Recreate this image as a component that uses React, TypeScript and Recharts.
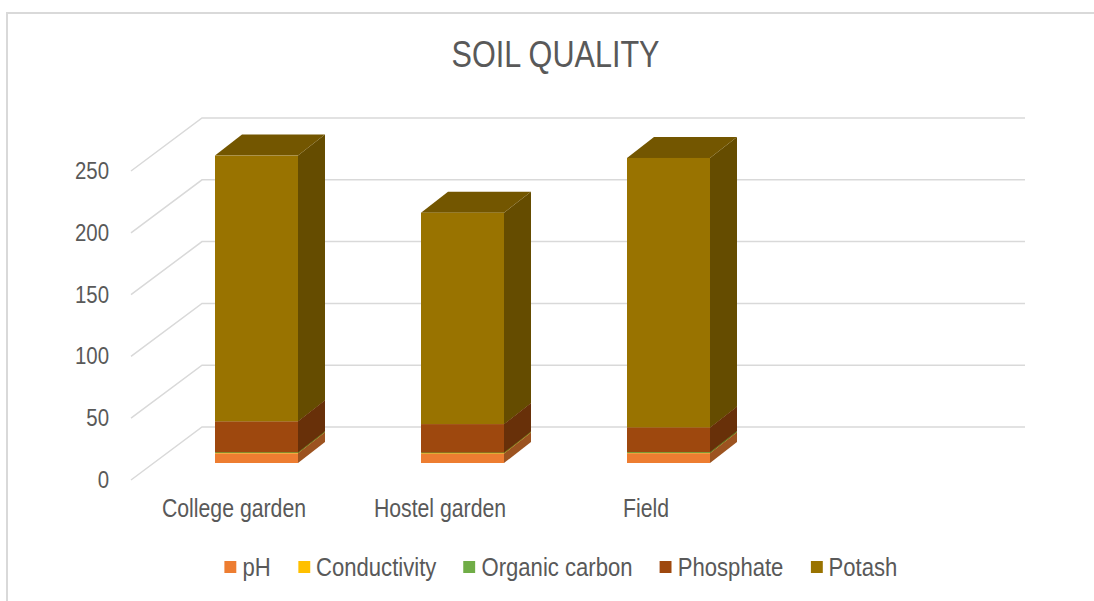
import * as React from "react"
import { BarChart, Bar, XAxis, YAxis, CartesianGrid } from "recharts"

const sites = ["College garden", "Hostel garden", "Field"]
const ph = [7.8, 7.6, 7.9]
const conductivity = [0.3, 0.4, 0.2]
const organicCarbon = [0.6, 0.5, 0.7]
const phosphate = [25, 23, 20]
const potash = [215, 171, 218]
const yTicks = [0, 50, 100, 150, 200, 250]

const series = [
  { key: "ph", name: "pH", color: "#ED7D31", values: ph },
  { key: "conductivity", name: "Conductivity", color: "#FFC000", values: conductivity },
  { key: "organicCarbon", name: "Organic carbon", color: "#70AD47", values: organicCarbon },
  { key: "phosphate", name: "Phosphate", color: "#9E480E", values: phosphate },
  { key: "potash", name: "Potash", color: "#997300", values: potash },
]

const data = sites.map((name, i) => {
  const row: Record<string, string | number> = { name }
  series.forEach((s) => {
    row[s.key] = s.values[i]
  })
  return row
})

// fake 3d: offsets from the bar front plane
const DEPTH_X = 27
const DEPTH_Y = -21
const FRONT_X = -22
const FRONT_Y = 17
const BACK_X = 49
const BACK_Y = -36

// no narrow font installed, so squeeze Liberation Sans
const FONT = "'Liberation Sans', Arial, sans-serif"
const NARROW = 0.85
const TEXT = "#595959"
const GRID = "#D9D9D9"

function shade(hex: string, f: number) {
  const n = parseInt(hex.slice(1), 16)
  const r = Math.round(((n >> 16) & 255) * f)
  const g = Math.round(((n >> 8) & 255) * f)
  const b = Math.round((n & 255) * f)
  return `rgb(${r},${g},${b})`
}

function Box3D(props: any) {
  const { x, y, width, height, fill } = props
  if (height == null || height <= 0) return null
  const side = shade(fill, 0.66)
  const top = shade(fill, 0.75)
  const r = x + width
  return (
    <g>
      <polygon
        points={`${r},${y} ${r + DEPTH_X},${y + DEPTH_Y} ${r + DEPTH_X},${y + height + DEPTH_Y} ${r},${y + height}`}
        fill={side}
      />
      <polygon
        points={`${x},${y} ${x + DEPTH_X},${y + DEPTH_Y} ${r + DEPTH_X},${y + DEPTH_Y} ${r},${y}`}
        fill={top}
      />
      <rect x={x} y={y} width={width} height={height} fill={fill} />
    </g>
  )
}

function GridLine(props: any) {
  const { x1, x2, y1 } = props
  const pts = `${x1 + FRONT_X},${y1 + FRONT_Y} ${x1 + BACK_X},${y1 + BACK_Y} ${x2 + BACK_X - 1},${y1 + BACK_Y}`
  return <polyline key={props.key} points={pts} fill="none" stroke={GRID} strokeWidth={1.5} />
}

function YTick(props: any) {
  const { x, y, payload } = props
  return (
    <text
      transform={`translate(${x + FRONT_X - 22},${y + FRONT_Y}) scale(${NARROW},1)`}
      textAnchor="end"
      dominantBaseline="central"
      fill={TEXT}
      fontSize={24}
      fontFamily={FONT}
    >
      {payload.value}
    </text>
  )
}

function XTick(props: any) {
  const { x, y, payload } = props
  return (
    <text
      transform={`translate(${x + FRONT_X},${y + 54}) scale(${NARROW},1)`}
      textAnchor="middle"
      fill={TEXT}
      fontSize={25}
      fontFamily={FONT}
    >
      {payload.value}
    </text>
  )
}

export default function App() {
  return (
    <div style={{ position: "absolute", left: 0, top: 0, width: 1094, height: 601, background: "#fff", overflow: "hidden" }}>
      <div
        style={{
          position: "absolute",
          left: 6,
          top: 12,
          right: 0,
          bottom: 0,
          borderTop: `2px solid ${GRID}`,
          borderLeft: `2px solid ${GRID}`,
        }}
      />
      <div
        style={{
          position: "absolute",
          top: 35,
          left: 17,
          width: 1077,
          textAlign: "center",
          fontFamily: FONT,
          fontSize: 36,
          lineHeight: "40px",
          color: TEXT,
          transform: `scaleX(${NARROW})`,
        }}
      >
        SOIL QUALITY
      </div>
      <BarChart
        width={1094}
        height={601}
        data={data}
        margin={{ top: 154, right: 117, left: 53, bottom: 108 }}
        style={{ position: "absolute", left: 0, top: 0 }}
      >
        <CartesianGrid vertical={false} horizontal={(p: any) => <GridLine {...p} />} />
        <XAxis
          dataKey="name"
          axisLine={false}
          tickLine={false}
          tickSize={0}
          tickMargin={0}
          height={30}
          padding={{ left: 0, right: 206 }}
          tick={(p: any) => <XTick {...p} />}
        />
        <YAxis
          domain={[0, 250]}
          ticks={yTicks}
          axisLine={false}
          tickLine={false}
          tickSize={0}
          tickMargin={0}
          width={100}
          tick={(p: any) => <YTick {...p} />}
        />
        {series.map((s) => (
          <Bar
            key={s.key}
            dataKey={s.key}
            name={s.name}
            stackId="a"
            fill={s.color}
            barSize={83}
            isAnimationActive={false}
            shape={(p: any) => <Box3D {...p} />}
          />
        ))}
      </BarChart>
      <div
        style={{
          position: "absolute",
          top: 552,
          left: 0,
          width: 1122,
          height: 30,
          display: "flex",
          justifyContent: "center",
          alignItems: "center",
          gap: 32,
          fontFamily: FONT,
          fontSize: 26,
          color: TEXT,
          transform: `scaleX(${NARROW})`,
          transformOrigin: "561px 50%",
        }}
      >
        {series.map((s) => (
          <div key={s.key} style={{ display: "flex", alignItems: "center", gap: 7 }}>
            <span style={{ width: 14.1, height: 12, background: s.color, display: "inline-block" }} />
            <span>{s.name}</span>
          </div>
        ))}
      </div>
    </div>
  )
}
